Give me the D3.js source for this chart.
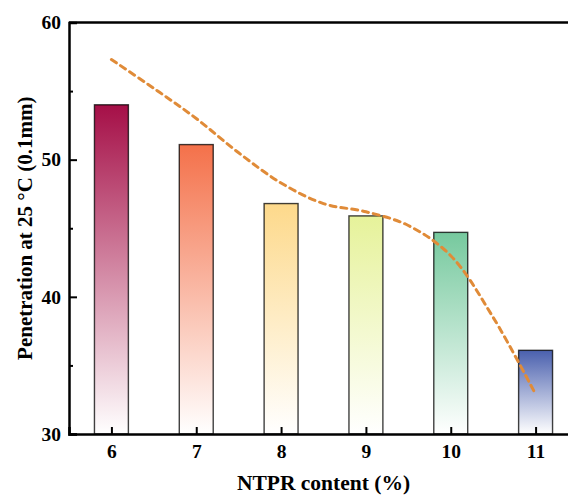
<!DOCTYPE html>
<html><head><meta charset="utf-8">
<script src="https://cdn.jsdelivr.net/npm/d3@7"></script>
<style>body{margin:0;background:#fff}svg{display:block}</style>
</head><body>
<svg id="c" width="568" height="495"></svg>
<script>
const categories = [6, 7, 8, 9, 10, 11];
const penetration = [54.0, 51.1, 46.8, 45.9, 44.7, 36.1];
const barTopColors = ["#A50F47", "#F4714A", "#FDD98B", "#E6F29A", "#76C99E", "#4A60AE"];
const trendX = [6, 6.5, 7, 7.5, 8, 8.5, 9, 9.5, 10, 10.5, 11];
const trendY = [57.3, 55.2, 53.0, 50.5, 48.3, 46.8, 46.2, 45.2, 43.0, 38.5, 32.9];
const yTicks = [30, 40, 50, 60];
const yMinor = [35, 45, 55];

const svg = d3.select("#c");
const L = 69, T = 22.5, B = 434, R = 578;
const x = d3.scaleLinear().domain([5.5, 11.5]).range([L, R]);
const y = d3.scaleLinear().domain([30, 60]).range([B, T]);
const font = "'Liberation Serif', 'Times New Roman', serif";

const defs = svg.append("defs");
barTopColors.forEach((c, i) => {
  const g = defs.append("linearGradient").attr("id", "g" + i)
    .attr("x1", 0).attr("y1", 0).attr("x2", 0).attr("y2", 1);
  g.append("stop").attr("offset", "0%").attr("stop-color", c);
  g.append("stop").attr("offset", "100%").attr("stop-color", "#ffffff");
});

const bw = x(6.2) - x(5.8);
svg.append("g").selectAll("rect").data(categories).join("rect")
  .attr("x", d => x(d) - bw / 2)
  .attr("y", (d, i) => y(penetration[i]))
  .attr("width", bw)
  .attr("height", (d, i) => y(30) - y(penetration[i]))
  .attr("fill", (d, i) => `url(#g${i})`)
  .attr("stroke", "#000").attr("stroke-opacity", 0.75).attr("stroke-width", 1.4);

const line = d3.line().x(d => x(d[0])).y(d => y(d[1])).curve(d3.curveCatmullRom.alpha(0.5));
svg.append("path").datum(trendX.map((v, i) => [v, trendY[i]]))
  .attr("d", line).attr("fill", "none")
  .attr("stroke", "#E08B38").attr("stroke-width", 3)
  .attr("stroke-dasharray", "6,5").attr("stroke-linecap", "round");

// axes
const axisY = svg.append("g").attr("transform", `translate(${L},0)`)
  .call(d3.axisLeft(y).tickValues(yTicks).tickSize(-8).tickPadding(8).tickFormat(d3.format("d")));
axisY.selectAll(".tick line").attr("stroke-width", 2);
svg.append("g").attr("transform", `translate(${L},0)`)
  .call(d3.axisLeft(y).tickValues(yMinor).tickSize(-4).tickFormat(""))
  .call(g => g.select(".domain").remove())
  .selectAll(".tick line").attr("stroke-width", 2);

const axisX = svg.append("g").attr("transform", `translate(0,${B})`)
  .call(d3.axisBottom(x).tickValues(categories).tickSize(-7).tickPadding(10).tickFormat(d3.format("d")));
axisX.selectAll(".tick line").attr("stroke-width", 2);

svg.selectAll(".domain").attr("stroke-width", 2.5);
svg.selectAll(".tick text").attr("font-family", font).attr("font-weight", "bold")
  .attr("font-size", 19.5).attr("fill", "#000");

// top border
svg.append("line").attr("x1", L).attr("x2", R).attr("y1", T).attr("y2", T)
  .attr("stroke", "#000").attr("stroke-width", 2.5);

svg.append("text").attr("x", (L + R) / 2).attr("y", 490).attr("text-anchor", "middle")
  .attr("font-family", font).attr("font-weight", "bold").attr("font-size", 21.5)
  .text("NTPR content (%)");
svg.append("text").attr("transform", `translate(32,${(T + B) / 2}) rotate(-90)`)
  .attr("text-anchor", "middle")
  .attr("font-family", font).attr("font-weight", "bold").attr("font-size", 21)
  .text("Penetration at 25 °C (0.1mm)");
</script>
</body></html>
